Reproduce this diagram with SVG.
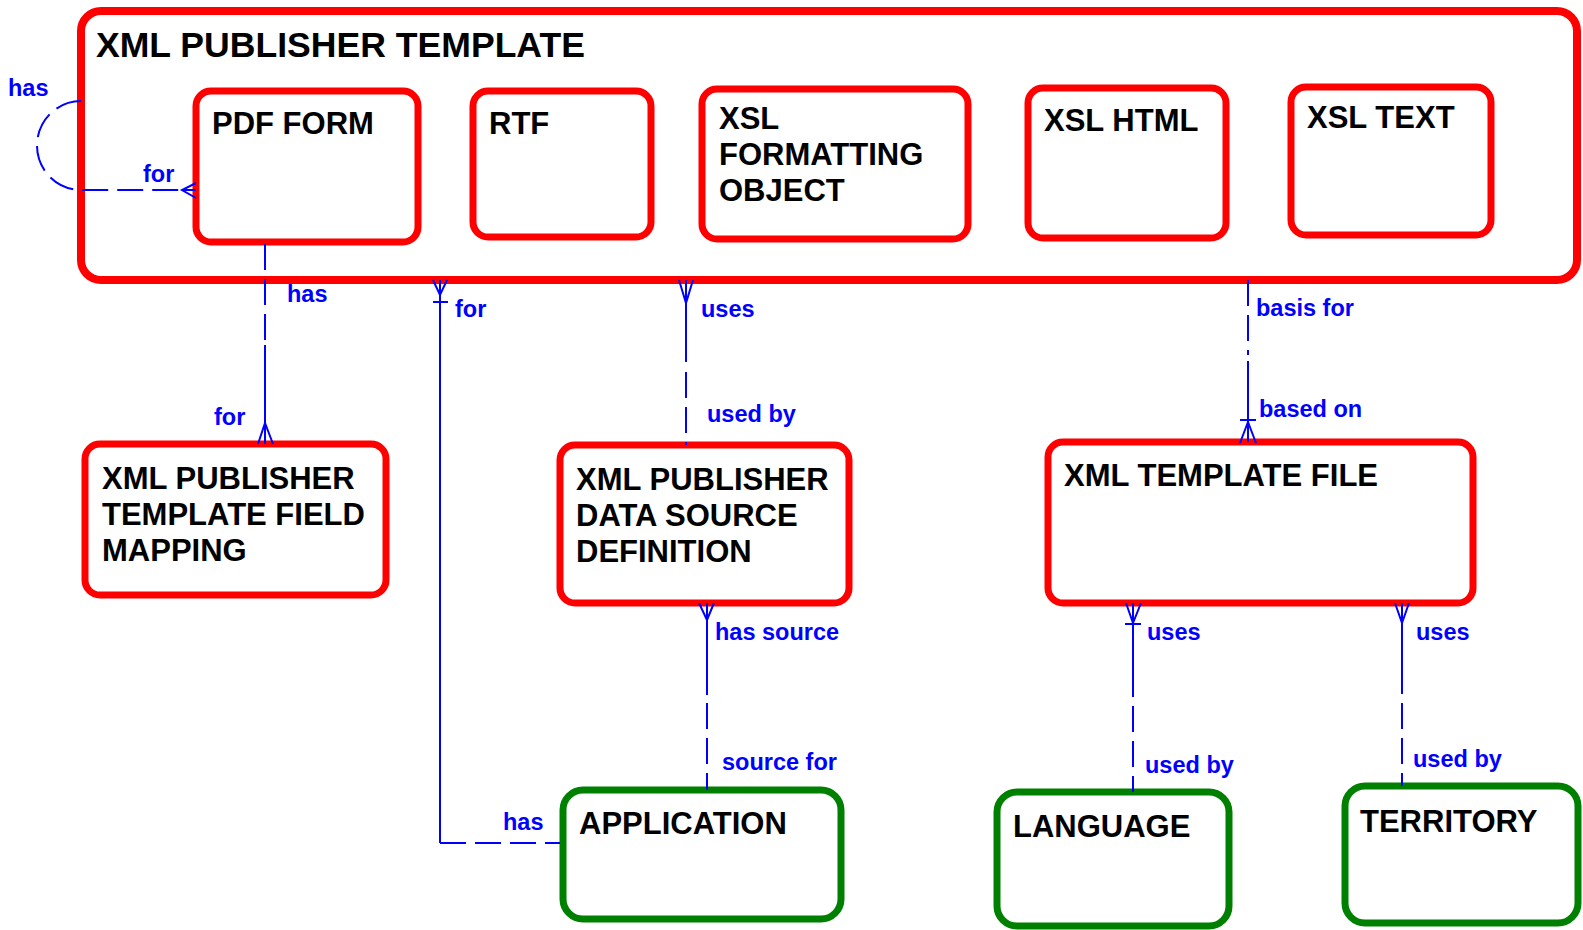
<svg xmlns="http://www.w3.org/2000/svg" width="1583" height="930" viewBox="0 0 1583 930">
<style>
.red{fill:#fff;stroke:#ff0000;stroke-width:7}
.outer{fill:#fff;stroke:#ff0000;stroke-width:8}
.green{fill:#fff;stroke:#008000;stroke-width:7}
.t{font-family:"Liberation Sans",Arial,sans-serif;font-weight:bold;font-size:31px;fill:#000}
.title{font-family:"Liberation Sans",Arial,sans-serif;font-weight:bold;font-size:35.6px;fill:#000}
.lb{font-family:"Liberation Sans",Arial,sans-serif;font-weight:bold;font-size:23.5px;fill:#0000ff}
.c{fill:none;stroke:#0000ff;stroke-width:2}
.d{fill:none;stroke:#0000ff;stroke-width:2;stroke-dasharray:26 9}
</style>
<rect width="1583" height="930" fill="#fff"/>
<g id="xml_publisher_template">
<rect class="outer" x="81" y="11" width="1496" height="269" rx="20"/>
<text class="title" x="96" y="57">XML PUBLISHER TEMPLATE</text>
</g>
<g id="pdf_form">
<rect class="red" x="196" y="91" width="222" height="151" rx="15"/>
<text class="t" x="212" y="134">PDF FORM</text>
</g>
<g id="rtf">
<rect class="red" x="473" y="91" width="178" height="146" rx="15"/>
<text class="t" x="489" y="134">RTF</text>
</g>
<g id="xsl_fo">
<rect class="red" x="702" y="89" width="266" height="150" rx="15"/>
<text class="t" x="719" y="129">XSL</text>
<text class="t" x="719" y="165">FORMATTING</text>
<text class="t" x="719" y="201">OBJECT</text>
</g>
<g id="xsl_html">
<rect class="red" x="1028" y="88" width="198" height="150" rx="15"/>
<text class="t" x="1044" y="131">XSL HTML</text>
</g>
<g id="xsl_text">
<rect class="red" x="1291" y="87" width="200" height="148" rx="15"/>
<text class="t" x="1307" y="128">XSL TEXT</text>
</g>
<g id="field_mapping">
<rect class="red" x="85" y="444" width="301" height="151" rx="15"/>
<text class="t" x="102" y="489">XML PUBLISHER</text>
<text class="t" x="102" y="525">TEMPLATE FIELD</text>
<text class="t" x="102" y="561">MAPPING</text>
</g>
<g id="data_source">
<rect class="red" x="560" y="445" width="289" height="158" rx="15"/>
<text class="t" x="576" y="490">XML PUBLISHER</text>
<text class="t" x="576" y="526">DATA SOURCE</text>
<text class="t" x="576" y="562">DEFINITION</text>
</g>
<g id="template_file">
<rect class="red" x="1048" y="442" width="425" height="161" rx="15"/>
<text class="t" x="1064" y="486">XML TEMPLATE FILE</text>
</g>
<g id="application">
<rect class="green" x="563" y="790" width="278" height="129" rx="20"/>
<text class="t" x="579" y="834">APPLICATION</text>
</g>
<g id="language">
<rect class="green" x="997" y="792" width="232" height="134" rx="20"/>
<text class="t" x="1013" y="837">LANGUAGE</text>
</g>
<g id="territory">
<rect class="green" x="1345" y="786" width="233" height="137" rx="20"/>
<text class="t" x="1360" y="832">TERRITORY</text>
</g>
<g id="connectors">
<!-- self loop -->
<path class="d" d="M81,101 A44,44.5 0 0 0 81,190 L196,190"/>
<path class="c" d="M196,183 L182,190 L196,198 M182,190 L196,190"/>
<text class="lb" x="8" y="96">has</text>
<text class="lb" x="143" y="182">for</text>
<!-- pdf form to field mapping -->
<path class="d" d="M265,244 L265,345"/>
<path class="c" d="M265,345 L265,444 M258,444 L265,423 L273,444"/>
<text class="lb" x="287" y="302">has</text>
<text class="lb" x="214" y="425">for</text>
<!-- template to application -->
<path class="c" d="M440,280 L440,843 M433,280 L440,295 L447,280 M433,302 L448,302"/>
<path class="d" d="M440,843 L560,843"/>
<text class="lb" x="455" y="317">for</text>
<text class="lb" x="503" y="830">has</text>
<!-- template to data source -->
<path class="c" d="M686,280 L686,362 M679,280 L686,303 L693,280"/>
<path class="d" d="M686,372 L686,445"/>
<text class="lb" x="701" y="317">uses</text>
<text class="lb" x="707" y="422">used by</text>
<!-- template to template file -->
<path class="d" d="M1248,280 L1248,355"/>
<path class="c" d="M1248,361 L1248,442 M1240,420 L1256,420 M1240,443 L1248,422 L1256,443"/>
<text class="lb" x="1256" y="316">basis for</text>
<text class="lb" x="1259" y="417">based on</text>
<!-- data source to application -->
<path class="c" d="M707,603 L707,695 M699,603 L707,620 L714,603"/>
<path class="d" d="M707,703 L707,790"/>
<text class="lb" x="715" y="640">has source</text>
<text class="lb" x="722" y="770">source for</text>
<!-- template file to language -->
<path class="c" d="M1133,603 L1133,697 M1126,603 L1133,623 L1141,603 M1125,624 L1141,624"/>
<path class="d" d="M1133,706 L1133,792"/>
<text class="lb" x="1147" y="640">uses</text>
<text class="lb" x="1145" y="773">used by</text>
<!-- template file to territory -->
<path class="c" d="M1402,603 L1402,694 M1395,603 L1402,623 L1409,603"/>
<path class="d" d="M1402,703 L1402,786"/>
<text class="lb" x="1416" y="640">uses</text>
<text class="lb" x="1413" y="767">used by</text>
</g>
</svg>
